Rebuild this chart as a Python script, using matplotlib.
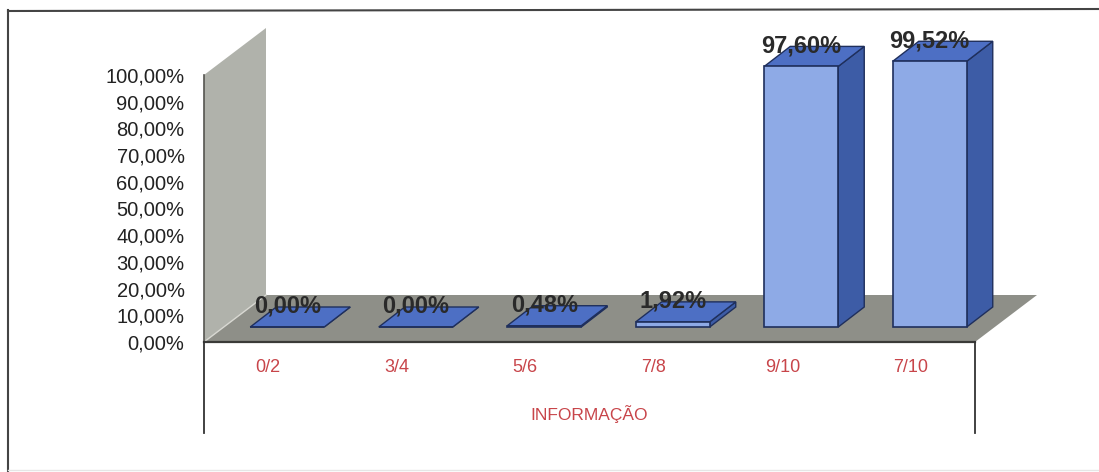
import matplotlib
matplotlib.use('Agg')
import matplotlib.pyplot as plt
from matplotlib.lines import Line2D
from matplotlib.patches import Polygon

plt.rcParams['font.family'] = ['Liberation Sans', 'DejaVu Sans']

categories = ['0/2', '3/4', '5/6', '7/8', '9/10', '7/10']
values = [0.00, 0.00, 0.48, 1.92, 97.60, 99.52]
value_labels = ['0,00%', '0,00%', '0,48%', '1,92%', '97,60%', '99,52%']
y_ticks = [0, 10, 20, 30, 40, 50, 60, 70, 80, 90, 100]
y_tick_labels = ['0,00%', '10,00%', '20,00%', '30,00%', '40,00%', '50,00%',
                 '60,00%', '70,00%', '80,00%', '90,00%', '100,00%']
x_title = 'INFORMAÇÃO'

W, H = 1099, 472
fig = plt.figure(figsize=(W / 100, H / 100), dpi=100)

# axes rectangle is the front plane of the 3d box
left, right, top, bottom = 204, 975, 75, 342
ax = fig.add_axes([left / W, 1 - bottom / H, (right - left) / W, (bottom - top) / H])
ax.set_xlim(0, 6)
ax.set_ylim(0, 100)
ax.patch.set_visible(False)
for s in ax.spines.values():
    s.set_visible(False)

# pixel sizes turned into data units
px_x = 6 / (right - left)
px_y = 100 / (bottom - top)
depth_x, depth_y = 62 * px_x, 47 * px_y
bar_w = 74 * px_x
bar_dx, bar_dy = 26 * px_x, 20 * px_y
off_x, off_y = 19 * px_x, 15 * px_y


def poly(pts, face, edge='none', lw=0.0, z=1):
    ax.add_patch(Polygon(pts, closed=True, facecolor=face, edgecolor=edge,
                         linewidth=lw, zorder=z, clip_on=False))


# wall and floor
poly([(0, 0), (depth_x, depth_y), (depth_x, 100 + depth_y), (0, 100)], '#b0b2ab')
poly([(0, 0), (6, 0), (6 + depth_x, depth_y), (depth_x, depth_y)], '#8e8f88')
ax.plot([0, depth_x], [0, depth_y], color='#d8d8d2', lw=1, zorder=2, clip_on=False)
ax.plot([0, 0], [0, 100], color='#555550', lw=1.2, zorder=2, clip_on=False)

# front edge and the frame below the floor
ax.plot([0, 6], [0, 0], color='#3a3a38', lw=1.6, zorder=3, clip_on=False)
ax.plot([0, 0], [0, -34], color='#333333', lw=1.3, zorder=3, clip_on=False)
ax.plot([6, 6], [0, -34], color='#333333', lw=1.3, zorder=3, clip_on=False)

navy = '#1f2f5c'
for i, v in enumerate(values):
    x0 = i + 0.5 + off_x - bar_w / 2
    x1 = x0 + bar_w
    y0 = off_y
    y1 = y0 + v
    poly([(x1, y0), (x1 + bar_dx, y0 + bar_dy), (x1 + bar_dx, y1 + bar_dy), (x1, y1)],
         '#3d5ca6', navy, 1.0, 4)
    poly([(x0, y1), (x1, y1), (x1 + bar_dx, y1 + bar_dy), (x0 + bar_dx, y1 + bar_dy)],
         '#4d6fc4', navy, 1.0, 4)
    poly([(x0, y0), (x1, y0), (x1, y1), (x0, y1)], '#8eaae6', navy, 1.2, 5)
    ax.text(i + 0.5 + off_x, y1 + 20.5 * px_y, value_labels[i], ha='center', va='center',
            fontsize=17, fontweight='bold', color='#2a2a2a', zorder=6, clip_on=False)

ax.set_yticks(y_ticks, y_tick_labels, fontsize=14.5, color='#222222')
ax.set_xticks([i + 0.5 for i in range(len(categories))], categories,
              fontsize=13, color='#c8454a')
ax.tick_params(axis='both', length=0)
ax.tick_params(axis='y', pad=14)
ax.tick_params(axis='x', pad=12)
ax.set_xlabel(x_title, fontsize=12.5, color='#c8454a', labelpad=21)

# outer chart frame: top and left are dark, the bottom edge is barely there
frame = [([8, 8], [10, 471], '#444444', 1.5),
         ([8, 1099], [11, 9], '#444444', 1.5),
         ([8, 1099], [470, 470], '#e6e6e6', 1.0)]
for xs, ys, col, lw in frame:
    fig.add_artist(Line2D([x / W for x in xs], [1 - y / H for y in ys], color=col, lw=lw,
                          transform=fig.transFigure))

fig.savefig('out.png', dpi=100)
